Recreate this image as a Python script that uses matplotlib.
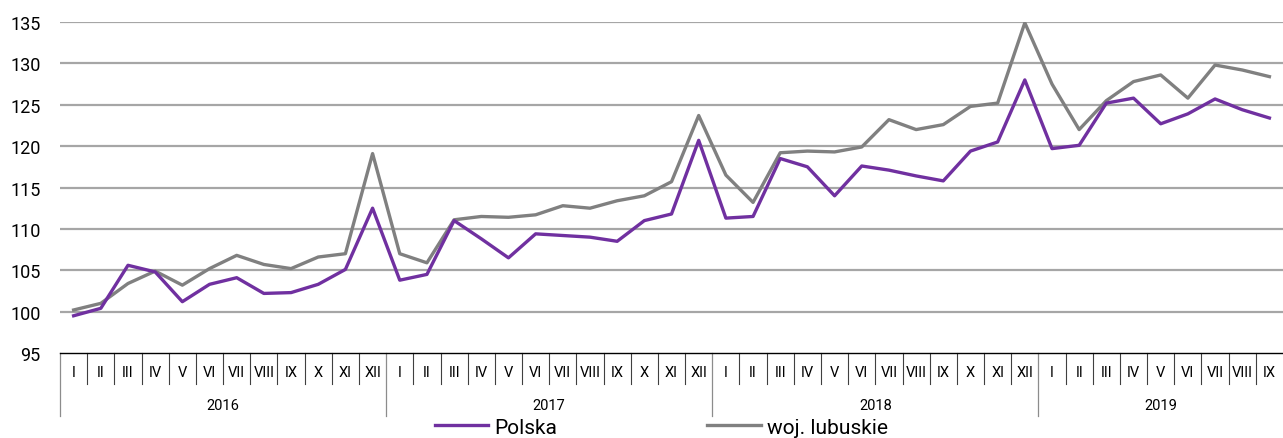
import matplotlib
matplotlib.use('Agg')
import matplotlib.pyplot as plt
import matplotlib.transforms as mtransforms

plt.rcParams['font.family'] = ['Roboto', 'DejaVu Sans']

# dane: indeksy miesięczne (2016 I = ok. 100)
years = ['2016', '2017', '2018', '2019']
months = ['I', 'II', 'III', 'IV', 'V', 'VI', 'VII', 'VIII', 'IX', 'X', 'XI', 'XII']
months_per_year = [12, 12, 12, 9]

polska = [99.5, 100.4, 105.6, 104.8, 101.2, 103.3, 104.1, 102.2, 102.3, 103.3, 105.1, 112.5,
          103.8, 104.5, 111.0, 108.8, 106.5, 109.4, 109.2, 109.0, 108.5, 111.0, 111.8, 120.7,
          111.3, 111.5, 118.5, 117.5, 114.0, 117.6, 117.1, 116.4, 115.8, 119.4, 120.5, 128.0,
          119.7, 120.1, 125.2, 125.8, 122.7, 123.9, 125.7, 124.4, 123.4]
lubuskie = [100.2, 101.0, 103.4, 104.9, 103.2, 105.2, 106.8, 105.7, 105.2, 106.6, 107.0, 119.1,
            107.0, 105.9, 111.1, 111.5, 111.4, 111.7, 112.8, 112.5, 113.4, 114.0, 115.7, 123.7,
            116.5, 113.2, 119.2, 119.4, 119.3, 119.9, 123.2, 122.0, 122.6, 124.8, 125.2, 134.9,
            127.5, 122.0, 125.5, 127.8, 128.6, 125.8, 129.8, 129.2, 128.4]

month_labels = []
for n in months_per_year:
    month_labels += months[:n]
n_total = len(month_labels)
x = [i + 0.5 for i in range(n_total)]

fig = plt.figure(figsize=(12.83, 4.39), dpi=100)
ax = fig.add_axes([0.0468, 0.1936, 0.9532, 0.754])

for v in range(100, 136, 5):
    ax.axhline(v, color='#a6a6a6', lw=1.6, zorder=1)

ax.plot(x, polska, color='#7030a0', lw=2.4, label='Polska', zorder=3)
ax.plot(x, lubuskie, color='#808080', lw=2.4, label='woj. lubuskie', zorder=2)

ax.set_xlim(0, n_total)
ax.set_ylim(95, 135)
ax.set_yticks(range(95, 136, 5))
ax.tick_params(axis='y', length=0, pad=14, labelsize=13)
ax.set_xticks([])
for s in ['top', 'right', 'left']:
    ax.spines[s].set_visible(False)
ax.spines['bottom'].set_color('black')
ax.spines['bottom'].set_linewidth(1.0)

trans = mtransforms.blended_transform_factory(ax.transData, ax.transAxes)

# separatory miesięcy i lat, etykiety
year_starts = [0]
for n in months_per_year:
    year_starts.append(year_starts[-1] + n)
for i in range(n_total):
    if i in year_starts:
        ax.plot([i, i], [0, -0.19], transform=trans, color='#8c8c8c', lw=0.9,
                clip_on=False)
    else:
        ax.plot([i, i], [0, -0.094], transform=trans, color='#404040', lw=0.8,
                clip_on=False)
for i, lab in enumerate(month_labels):
    ax.text(i + 0.5, -0.058, lab, transform=trans, ha='center', va='center',
            fontsize=10.5)
for k, yr in enumerate(years):
    mid = (year_starts[k] + year_starts[k + 1]) / 2
    ax.text(mid, -0.158, yr, transform=trans, ha='center', va='center', fontsize=10.5)

fig.legend(loc='center', bbox_to_anchor=(0.5156, 0.025), ncol=2, frameon=False,
           fontsize=15, handlelength=2.55, handletextpad=0.3, columnspacing=7.2,
           borderpad=0)

fig.savefig('out.png', dpi=100)
